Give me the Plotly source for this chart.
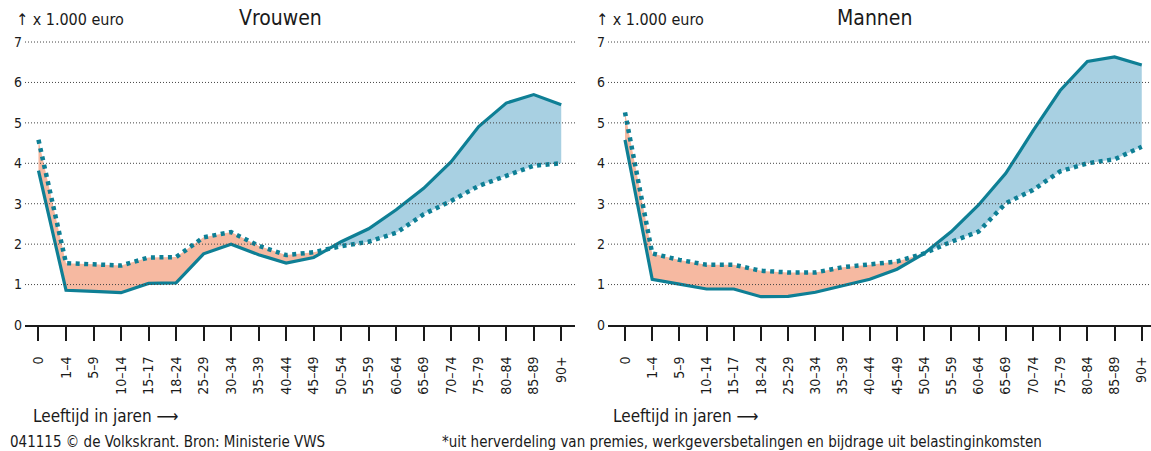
import plotly.graph_objects as go

# ---------------- data ----------------
age_groups = ["0", "1–4", "5–9", "10–14", "15–17", "18–24", "25–29", "30–34", "35–39",
              "40–44", "45–49", "50–54", "55–59", "60–64", "65–69", "70–74", "75–79",
              "80–84", "85–89", "90+"]

# solid line (zorgkosten) and dotted line (bijdrage*), x 1.000 euro
vrouwen_kosten = [3.82, 0.86, 0.83, 0.80, 1.03, 1.04, 1.76, 2.00, 1.74, 1.53,
                  1.67, 2.06, 2.38, 2.85, 3.38, 4.04, 4.91, 5.49, 5.70, 5.45]
vrouwen_bijdrage = [4.58, 1.53, 1.50, 1.47, 1.67, 1.68, 2.17, 2.30, 1.96, 1.73,
                    1.80, 1.95, 2.06, 2.28, 2.74, 3.07, 3.44, 3.69, 3.94, 4.00]

mannen_kosten = [4.58, 1.13, 1.01, 0.89, 0.89, 0.70, 0.71, 0.81, 0.97, 1.13,
                 1.38, 1.77, 2.31, 2.97, 3.75, 4.80, 5.80, 6.52, 6.63, 6.43]
mannen_bijdrage = [5.26, 1.77, 1.61, 1.49, 1.49, 1.34, 1.30, 1.30, 1.43, 1.49,
                   1.57, 1.77, 2.06, 2.31, 3.01, 3.34, 3.80, 4.00, 4.10, 4.41]

y_ticks = [0, 1, 2, 3, 4, 5, 6, 7]

# ---------------- style ----------------
FONT = "DejaVu Sans Condensed, Liberation Sans Narrow, sans-serif"
TEAL = "#0e7f95"
SALMON = "#f6b9a1"
BLUE = "#a8d0e2"
W, H = 1151, 451


def with_crossings(a, b):
    """Insert the intersection points of two polylines (same x positions)."""
    xs, A, B = [], [], []
    n = len(a)
    for i in range(n):
        xs.append(i); A.append(a[i]); B.append(b[i])
        if i < n - 1:
            d0 = a[i] - b[i]
            d1 = a[i + 1] - b[i + 1]
            if d0 * d1 < 0:
                t = d0 / (d0 - d1)
                v = a[i] + t * (a[i + 1] - a[i])
                xs.append(i + t); A.append(v); B.append(v)
    return xs, A, B


fig = go.Figure()


def add_panel(kosten, bijdrage, xa, ya):
    xs, K, Bj = with_crossings(kosten, bijdrage)
    top = [max(k, b) for k, b in zip(K, Bj)]
    none = dict(width=0)
    fig.add_trace(go.Scatter(x=xs, y=K, mode="lines", line=none, xaxis=xa, yaxis=ya,
                             hoverinfo="skip", showlegend=False))
    fig.add_trace(go.Scatter(x=xs, y=top, mode="lines", line=none, fill="tonexty",
                             fillcolor=SALMON, xaxis=xa, yaxis=ya,
                             hoverinfo="skip", showlegend=False))
    fig.add_trace(go.Scatter(x=xs, y=Bj, mode="lines", line=none, xaxis=xa, yaxis=ya,
                             hoverinfo="skip", showlegend=False))
    fig.add_trace(go.Scatter(x=xs, y=top, mode="lines", line=none, fill="tonexty",
                             fillcolor=BLUE, xaxis=xa, yaxis=ya,
                             hoverinfo="skip", showlegend=False))
    xi = list(range(len(age_groups)))
    fig.add_trace(go.Scatter(x=xi, y=kosten, mode="lines", name="zorgkosten",
                             line=dict(color=TEAL, width=3.2), xaxis=xa, yaxis=ya,
                             showlegend=False))
    fig.add_trace(go.Scatter(x=xi, y=bijdrage, mode="lines", name="bijdrage*",
                             line=dict(color=TEAL, width=4.5, dash="4px,4.5px"),
                             xaxis=xa, yaxis=ya, showlegend=False))


add_panel(vrouwen_kosten, vrouwen_bijdrage, "x", "y")
add_panel(mannen_kosten, mannen_bijdrage, "x2", "y2")

ydom = [(H - 325) / H, (H - 40) / H]
xaxis_common = dict(
    tickmode="array", tickvals=list(range(len(age_groups))), ticktext=age_groups,
    tickangle=-90, ticks="outside", ticklen=14, tickwidth=1.8, tickcolor="#1a1a1a",
    showline=True, linecolor="#1a1a1a", linewidth=1.8, showgrid=False, zeroline=False,
    ticklabeloverflow="allow", automargin=False, ticklabelstandoff=10,
    tickfont=dict(family=FONT, size=14, color="#1a1a1a"), fixedrange=True,
)
yaxis_common = dict(
    range=[0, 7.05], tickmode="array", tickvals=y_ticks, showgrid=False,
    zeroline=False, showline=False, ticks="", ticklabelstandoff=2, automargin=False,
    tickfont=dict(family=FONT, size=14, color="#1a1a1a"), domain=ydom, fixedrange=True,
)

fig.update_layout(
    width=W, height=H, autosize=False, margin=dict(l=0, r=0, t=0, b=0, pad=0),
    paper_bgcolor="white", plot_bgcolor="white", showlegend=False,
    xaxis=dict(domain=[25 / W, 575 / W], range=[-0.49, 19.5], anchor="y", **xaxis_common),
    yaxis=dict(anchor="x", **yaxis_common),
    xaxis2=dict(domain=[608 / W, 1.0], range=[-0.625, 19.34], anchor="y2", **xaxis_common),
    yaxis2=dict(anchor="x2", **yaxis_common),
)

# dotted gridlines drawn above the fills
shapes = []
for xr, yr in (("x domain", "y"), ("x2 domain", "y2")):
    for v in y_ticks[1:]:
        shapes.append(dict(type="line", xref=xr, yref=yr, x0=0, x1=1, y0=v, y1=v,
                           line=dict(color="#444", width=1, dash="1px,2px"),
                           layer="above"))
fig.update_layout(shapes=shapes)


def txt(x, y, text, size, anchor="left"):
    fig.add_annotation(x=x / W, y=1 - y / H, xref="paper", yref="paper", text=text,
                       showarrow=False, xanchor=anchor, yanchor="middle",
                       font=dict(family=FONT, size=size, color="#1a1a1a"))


txt(14, 20, "↑ x 1.000 euro", 16)
txt(280, 18, "Vrouwen", 21, "center")
txt(594, 20, "↑ x 1.000 euro", 16)
txt(874, 18, "Mannen", 21, "center")
txt(31, 416, "Leeftijd in jaren ⟶", 17)
txt(611, 416, "Leeftijd in jaren ⟶", 17)
txt(8, 442, "041115 © de Volkskrant. Bron: Ministerie VWS", 15)
txt(440, 442, "*uit herverdeling van premies, werkgeversbetalingen en bijdrage uit belastinginkomsten", 15)

fig.write_html("out.html", config={"responsive": False, "displayModeBar": False},
               post_script="document.body.style.margin='0';document.body.style.overflow='hidden';")
